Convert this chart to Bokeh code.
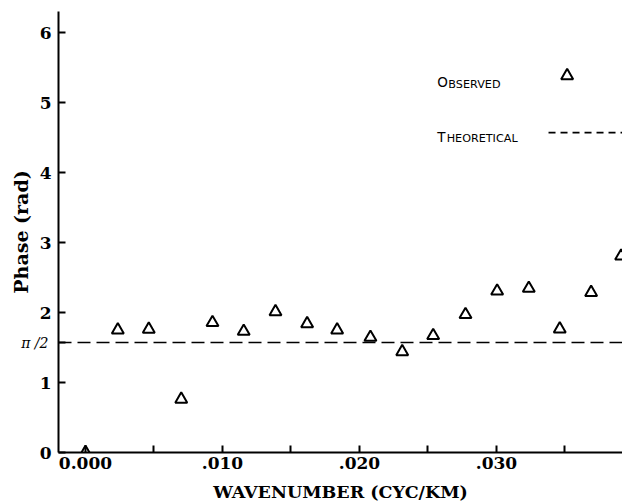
import math
from bokeh.plotting import figure
from bokeh.models import Range1d, FixedTicker, Span, LinearAxis
from bokeh.core.properties import value
from bokeh.embed import file_html
from bokeh.resources import INLINE

# ---- data ----
wavenumber = [0.0, 0.00236, 0.00462, 0.00699, 0.00927, 0.01155, 0.01387, 0.01618,
              0.01837, 0.0208, 0.02312, 0.02538, 0.02774, 0.03005, 0.03236, 0.03462,
              0.03691, 0.0391]
phase_observed = [0.0, 1.75, 1.76, 0.76, 1.855, 1.73, 2.01, 1.84, 1.75, 1.645,
                  1.44, 1.67, 1.97, 2.305, 2.345, 1.765, 2.285, 2.805]
theoretical_phase = math.pi / 2

x_ticks_major = [0.0, 0.01, 0.02, 0.03]
x_tick_labels = ["0.000", ".010", ".020", ".030"]
x_ticks_minor = [0.005, 0.015, 0.025, 0.035]
y_ticks = [0, 1, 2, 3, 4, 5, 6]
pi_half_label = "\u03c0 /2"

SERIF = "DejaVu Serif"
SANS = "DejaVu Sans"

p = figure(width=622, height=504, output_backend="svg", toolbar_location=None,
           x_range=Range1d(-0.00197, 0.0392), y_range=Range1d(0, 6.3),
           min_border_left=58, min_border_right=0, min_border_top=11,
           min_border_bottom=52)
p.outline_line_color = None
p.xgrid.visible = False
p.ygrid.visible = False
p.background_fill_color = "white"
p.border_fill_color = "white"

# ---- x axis ----
xa = p.xaxis[0]
xa.ticker = FixedTicker(ticks=x_ticks_major, minor_ticks=x_ticks_minor)
xa.major_label_overrides = dict(zip(x_ticks_major, x_tick_labels))

# ---- inner y axis: line, ticks and the pi/2 label ----
ya = p.yaxis[0]
ya.ticker = FixedTicker(ticks=y_ticks + [theoretical_phase])
overrides = {t: "" for t in y_ticks}
overrides[theoretical_phase] = pi_half_label
ya.major_label_overrides = overrides
ya.major_label_text_font = SERIF
ya.major_label_text_font_style = "italic"
ya.major_label_text_font_size = "14px"
ya.major_label_text_color = "black"
ya.major_label_standoff = 10
ya.minor_tick_line_color = None

for ax in (xa, ya):
    ax.axis_line_width = 2
    ax.axis_line_color = "black"
    ax.major_tick_line_width = 2
    ax.major_tick_line_color = "black"
    ax.major_tick_in = 7
    ax.major_tick_out = 0

xa.minor_tick_in = 7
xa.minor_tick_out = 0
xa.minor_tick_line_width = 2
xa.minor_tick_line_color = "black"
xa.major_label_text_font = SERIF
xa.major_label_text_font_style = "bold"
xa.major_label_text_font_size = "17px"
xa.major_label_text_color = "black"
xa.major_label_standoff = 4
xa.axis_label = "WAVENUMBER (CYC/KM)"
xa.axis_label_text_font = SERIF
xa.axis_label_text_font_style = "bold"
xa.axis_label_text_font_size = "17.5px"
xa.axis_label_text_color = "black"
xa.axis_label_standoff = 10

# ---- outer y axis: numeric labels and title (no line, no ticks) ----
yb = LinearAxis(ticker=FixedTicker(ticks=y_ticks),
                axis_line_color=None, major_tick_line_color=None,
                minor_tick_line_color=None, major_tick_in=0, major_tick_out=0,
                minor_tick_in=0, minor_tick_out=0,
                major_label_text_font=SERIF, major_label_text_font_style="bold",
                major_label_text_font_size="17px", major_label_text_color="black",
                major_label_standoff=-33,
                axis_label="Phase (rad)", axis_label_text_font=SERIF,
                axis_label_text_font_style="bold", axis_label_text_font_size="19px",
                axis_label_text_color="black", axis_label_standoff=5)
p.add_layout(yb, "left")

# theoretical line
p.add_layout(Span(location=theoretical_phase, dimension="width", line_color="black",
                  line_width=1.6, line_dash="13 6"))

# observed points
p.scatter(wavenumber, phase_observed, marker="triangle", size=12,
          fill_color=None, line_color="black", line_width=2)

# legend (small caps imitation)
lx = 0.02567
p.text(x=[lx], y=[5.18], text=["O"], text_baseline="bottom",
       text_font=value(SANS), text_font_size="13.5px", text_color="black")
p.text(x=[lx], y=[5.17], x_offset=11.2, text=["BSERVED"], text_baseline="bottom",
       text_font=value(SANS), text_font_size="11.2px", text_color="black")
p.text(x=[lx], y=[4.40], text=["T"], text_baseline="bottom",
       text_font=value(SANS), text_font_size="13.5px", text_color="black")
p.text(x=[lx], y=[4.39], x_offset=9.5, text=["HEORETICAL"], text_baseline="bottom",
       text_font=value(SANS), text_font_size="11.2px", text_color="black")
p.scatter([0.03516], [5.383], marker="triangle", size=12, fill_color=None,
          line_color="black", line_width=2)
p.line([0.0338, 0.0395], [4.57, 4.57], line_color="black", line_width=1.6, line_dash="7 5")

open("out.html", "w").write(file_html(p, INLINE))
